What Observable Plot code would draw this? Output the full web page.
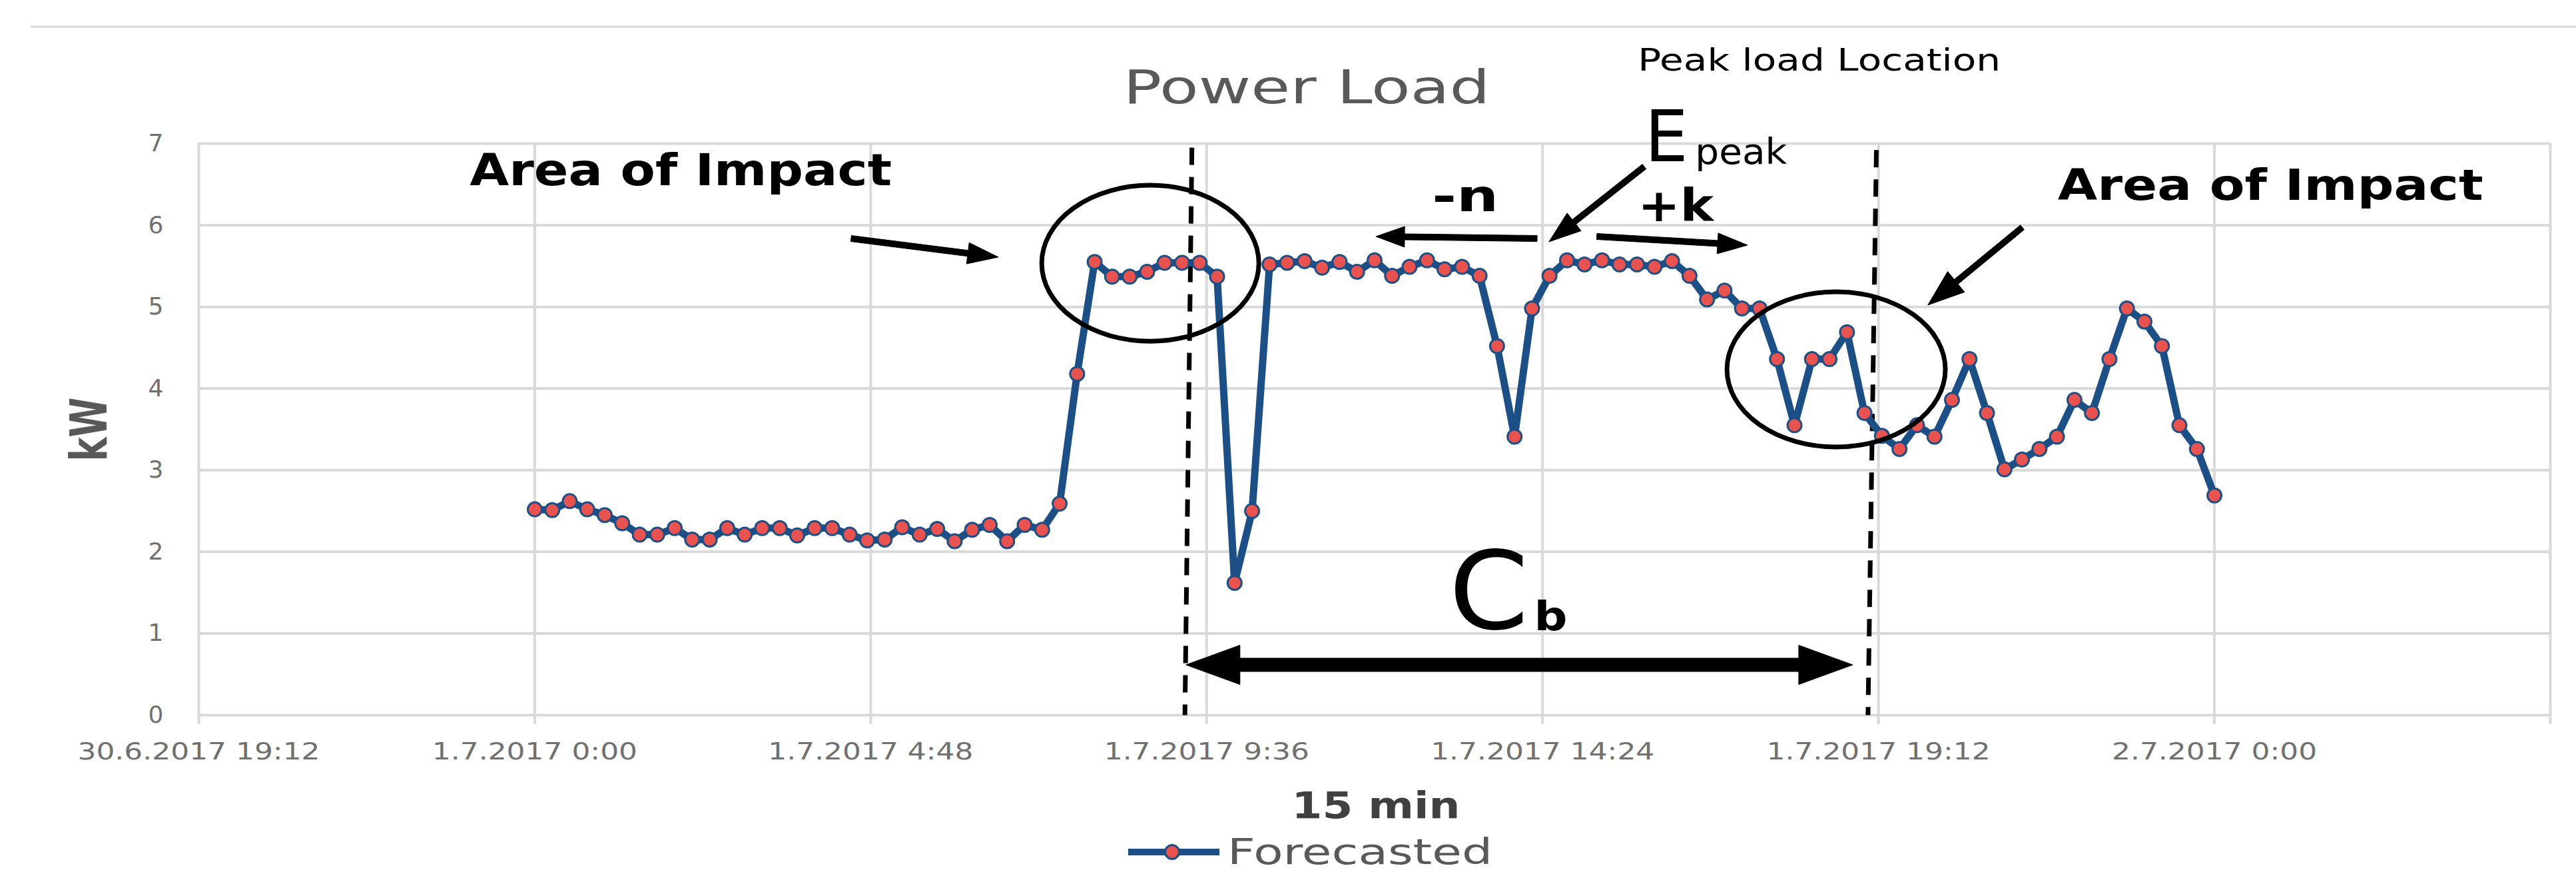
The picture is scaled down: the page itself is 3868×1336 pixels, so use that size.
<!DOCTYPE html>
<html>
<head>
<meta charset="utf-8">
<script src="https://cdn.jsdelivr.net/npm/d3@7"></script>
<script src="https://cdn.jsdelivr.net/npm/@observablehq/plot@0.6"></script>
<style>
  html, body { margin: 0; padding: 0; background: #ffffff; }
  #chart { position: relative; width: 3868px; height: 1336px; overflow: hidden; background: #ffffff; }
  #legend { position: absolute; left: 1694px; top: 1240px; }
</style>
</head>
<body>
<div id="chart"></div>
<script>
// ---------- data ----------
// Forecasted power load in kW, one value every 15 min from 1.7.2017 0:00 to 2.7.2017 0:00
const forecastedKW = [
  2.52, 2.51, 2.62, 2.52, 2.45, 2.35, 2.21, 2.21, 2.29, 2.15,
  2.15, 2.29, 2.21, 2.29, 2.29, 2.20, 2.29, 2.29, 2.21, 2.14,
  2.15, 2.30, 2.21, 2.28, 2.13, 2.27, 2.33, 2.13, 2.33, 2.27,
  2.59, 4.18, 5.55, 5.37, 5.37, 5.43, 5.54, 5.54, 5.54, 5.37,
  1.62, 2.50, 5.52, 5.54, 5.56, 5.48, 5.55, 5.43, 5.57, 5.38,
  5.49, 5.57, 5.46, 5.49, 5.38, 4.52, 3.41, 4.98, 5.38, 5.57,
  5.52, 5.57, 5.52, 5.52, 5.49, 5.56, 5.38, 5.09, 5.20, 4.98,
  4.98, 4.36, 3.55, 4.36, 4.36, 4.69, 3.70, 3.42, 3.26, 3.55,
  3.41, 3.86, 4.36, 3.70, 3.01, 3.13, 3.26, 3.41, 3.86, 3.70,
  4.36, 4.98, 4.82, 4.52, 3.55, 3.26, 2.69
];
const seriesStartUTC = Date.UTC(2017, 6, 1, 0, 0);   // 1.7.2017 0:00
const stepMinutes = 15;
const seriesName = "Forecasted";

// axis ticks (hours relative to 1.7.2017 0:00) and their labels
const xTickHours = [-4.8, 0, 4.8, 9.6, 14.4, 19.2, 24, 28.8];
const xTickLabels = ["30.6.2017 19:12", "1.7.2017 0:00", "1.7.2017 4:48", "1.7.2017 9:36",
                     "1.7.2017 14:24", "1.7.2017 19:12", "2.7.2017 0:00", ""];
const yTicks = [0, 1, 2, 3, 4, 5, 6, 7];
const yTickLabels = ["0", "1", "2", "3", "4", "5", "6", "7"];

const chartTitle = "Power Load";
const xAxisTitle = "15 min";
const yAxisTitle = "kW";

// ---------- annotations (in data units: hours from 1.7.2017 0:00, kW) ----------
const dashedMarkers = [
  {h1: 9.39, v1: 6.95, h2: 9.29, v2: 0},
  {h1: 19.17, v1: 6.92, h2: 19.05, v2: 0}
];
const annotationTexts = [
  {text: "Area of Impact", h: -0.93, v: 6.49, size: 66, weight: "bold", w: 634},
  {text: "Area of Impact", h: 21.76, v: 6.31, size: 64, weight: "bold", w: 639},
  {text: "Peak load Location", h: 15.76, v: 7.89, size: 46, weight: "normal", w: 545},
  {text: "E", h: 15.86, v: 6.78, size: 107, weight: "normal", w: 65},
  {text: "peak", h: 16.58, v: 6.75, size: 54, weight: "normal", w: 138},
  {text: "-n", h: 12.82, v: 6.17, size: 66, weight: "bold", w: 100},
  {text: "+k", h: 15.76, v: 6.05, size: 68, weight: "bold", w: 114},
  {text: "C", h: 13.06, v: 1.06, size: 162, weight: "normal", w: 120},
  {text: "b", h: 14.28, v: 1.044, size: 60, weight: "bold", w: 50}
];
const annotationArrows = [
  {h1: 4.525, v1: 5.833, h2: 6.628, v2: 5.605, shaft: 9, headLen: 46, headW: 32, both: false},
  {h1: 21.26, v1: 5.97, h2: 19.91, v2: 5.018, shaft: 9, headLen: 55, headW: 40, both: false},
  {h1: 14.327, v1: 5.833, h2: 12.024, v2: 5.858, shaft: 9, headLen: 43, headW: 31, both: false},
  {h1: 15.18, v1: 5.858, h2: 17.334, v2: 5.752, shaft: 9, headLen: 45, headW: 31, both: false},
  {h1: 15.858, v1: 6.714, h2: 14.497, v2: 5.793, shaft: 9, headLen: 48, headW: 34, both: false},
  {h1: 9.31, v1: 0.612, h2: 18.836, v2: 0.612, shaft: 20, headLen: 81, headW: 59, both: true}
];
const impactAreas = [
  {h: 8.80, v: 5.53, rh: 1.551, rv: 0.955},
  {h: 18.60, v: 4.23, rh: 1.56, rv: 0.95}
];

// ---------- build ----------
const hourMs = 3600e3;
const toDate = h => new Date(seriesStartUTC + h * hourMs);
const rows = forecastedKW.map((v, i) => ({time: new Date(seriesStartUTC + i * stepMinutes * 60000), kW: v}));
const xTicks = xTickHours.map(toDate);

const lineColor = "#1c4f86";
const dotColor = "#e8534f";
const gridColor = "#d9d9d9";
const font = "DejaVu Sans";

const plot = Plot.plot({
  width: 3868,
  height: 1240,
  marginLeft: 298,
  marginRight: 39,
  marginTop: 215,
  marginBottom: 167,
  style: {fontFamily: font, fontSize: "36px", background: "#ffffff", color: "#707070", overflow: "visible"},
  x: {
    type: "utc",
    domain: [toDate(-4.8), toDate(28.8)],
    ticks: xTicks,
    tickFormat: d => xTickLabels[xTicks.findIndex(t => +t === +d)],
    tickSize: 0,
    tickPadding: 41,
    label: null
  },
  y: {
    domain: [0, 7],
    ticks: yTicks,
    tickFormat: d => yTickLabels[yTicks.indexOf(d)],
    tickSize: 0,
    tickPadding: 53,
    label: null
  },
  marks: [
    Plot.ruleY(yTicks, {stroke: gridColor, strokeWidth: 4}),
    Plot.ruleX(xTicks, {stroke: gridColor, strokeWidth: 4, insetBottom: -14}),
    Plot.link(dashedMarkers, {
      x1: d => toDate(d.h1), y1: "v1", x2: d => toDate(d.h2), y2: "v2",
      stroke: "#000000", strokeWidth: 7, strokeDasharray: "26,18"
    }),
    Plot.line(rows, {x: "time", y: "kW", stroke: lineColor, strokeWidth: 11, strokeLinejoin: "round"}),
    Plot.dot(rows, {x: "time", y: "kW", r: 10.5, fill: dotColor, stroke: lineColor, strokeWidth: 3}),
    Plot.text([chartTitle], {frameAnchor: "top", dx: -102, dy: -61, lineAnchor: "bottom", textAnchor: "middle",
      fontSize: 70, fill: "#595959", text: d => d}),
    Plot.text([xAxisTitle], {frameAnchor: "bottom", dx: 2, dy: 154, lineAnchor: "bottom", textAnchor: "middle",
      fontSize: 56, fontWeight: "bold", fill: "#404040", text: d => d}),
    Plot.text([yAxisTitle], {frameAnchor: "left", dx: -163, rotate: -90, lineAnchor: "middle", textAnchor: "middle",
      fontSize: 76, fontWeight: "bold", fill: "#595959", text: d => d}),
    ...annotationTexts.map(a => Plot.text([a], {
      x: d => toDate(d.h), y: "v", text: "text", textAnchor: "start", lineAnchor: "bottom",
      fontSize: a.size, fontWeight: a.weight, fill: "#000000"
    }))
  ]
});

const svg = plot;
const chart = document.getElementById("chart");
chart.appendChild(svg);

// stretch texts to the measured widths of the reference (the reference is horizontally stretched)
const used = {};
const extraWidths = {[chartTitle]: 551, [xAxisTitle]: 253, [yAxisTitle]: 96};
const tickLabelStretch = 1.22;
svg.querySelectorAll("text").forEach(t => {
  const c = t.textContent;
  const cands = annotationTexts.filter(s => s.text === c);
  let w = null;
  if (cands.length) {
    const k = used[c] = (used[c] === undefined ? 0 : used[c] + 1);
    if (cands[k]) w = cands[k].w;
  } else if (extraWidths[c] !== undefined) {
    w = extraWidths[c];
  } else if (c && xTickLabels.includes(c)) {
    w = t.getComputedTextLength() * tickLabelStretch;
  }
  if (w) {
    t.setAttribute("textLength", w);
    t.setAttribute("lengthAdjust", "spacingAndGlyphs");
  }
});

// annotation shapes positioned with the plot's own scales
const sxDesc = plot.scale("x"), syDesc = plot.scale("y");
const sx = sxDesc.apply ? (d => sxDesc.apply(d)) : d3.scaleUtc().domain(sxDesc.domain).range(sxDesc.range);
const sy = syDesc.apply ? (d => syDesc.apply(d)) : d3.scaleLinear().domain(syDesc.domain).range(syDesc.range);
const X = h => sx(toDate(h));
const Y = v => sy(v);

const overlay = d3.select(svg).append("g").attr("aria-label", "annotations");

// top border line of the chart frame
overlay.append("line").attr("x1", 46).attr("x2", 3868).attr("y1", 40).attr("y2", 40)
  .attr("stroke", gridColor).attr("stroke-width", 3);

impactAreas.forEach(e => {
  const cx = X(e.h), cy = Y(e.v);
  overlay.append("ellipse")
    .attr("cx", cx).attr("cy", cy)
    .attr("rx", Math.abs(X(e.h + e.rh) - cx)).attr("ry", Math.abs(Y(e.v + e.rv) - cy))
    .attr("fill", "none").attr("stroke", "#000000").attr("stroke-width", 7);
});

function arrowPath(x1, y1, x2, y2, shaft, headLen, headW, both) {
  const dx = x2 - x1, dy = y2 - y1, L = Math.hypot(dx, dy);
  const ux = dx / L, uy = dy / L, nx = -uy, ny = ux;
  const s = shaft / 2, hw = headW / 2;
  const P = (x, y) => `${x.toFixed(1)},${y.toFixed(1)}`;
  const pts = [];
  if (both) {
    const bx = x1 + ux * headLen, by = y1 + uy * headLen;
    pts.push(P(x1, y1), P(bx + nx * hw, by + ny * hw), P(bx + nx * s, by + ny * s));
  } else {
    pts.push(P(x1 - nx * s, y1 - ny * s), P(x1 + nx * s, y1 + ny * s));
  }
  const ex = x2 - ux * headLen, ey = y2 - uy * headLen;
  pts.push(P(ex + nx * s, ey + ny * s), P(ex + nx * hw, ey + ny * hw), P(x2, y2),
           P(ex - nx * hw, ey - ny * hw), P(ex - nx * s, ey - ny * s));
  if (both) {
    const bx = x1 + ux * headLen, by = y1 + uy * headLen;
    pts.push(P(bx - nx * s, by - ny * s), P(bx - nx * hw, by - ny * hw));
  }
  return "M" + pts.join("L") + "Z";
}

annotationArrows.forEach(a => {
  overlay.append("path")
    .attr("d", arrowPath(X(a.h1), Y(a.v1), X(a.h2), Y(a.v2), a.shaft, a.headLen, a.headW, a.both))
    .attr("fill", "#000000").attr("stroke", "#000000").attr("stroke-width", 1).attr("stroke-linejoin", "miter");
});

// legend below the plot
const legend = d3.select(chart).append("div").attr("id", "legend");
const lsvg = legend.append("svg").attr("width", 600).attr("height", 96);
lsvg.append("line").attr("x1", 0).attr("x2", 137).attr("y1", 39).attr("y2", 39)
  .attr("stroke", lineColor).attr("stroke-width", 10);
lsvg.append("circle").attr("cx", 66).attr("cy", 39).attr("r", 10.5)
  .attr("fill", dotColor).attr("stroke", lineColor).attr("stroke-width", 3);
lsvg.append("text").attr("x", 149).attr("y", 57).text(seriesName)
  .attr("font-family", font).attr("font-size", 54).attr("fill", "#595959")
  .attr("textLength", 398).attr("lengthAdjust", "spacingAndGlyphs");
</script>
</body>
</html>
